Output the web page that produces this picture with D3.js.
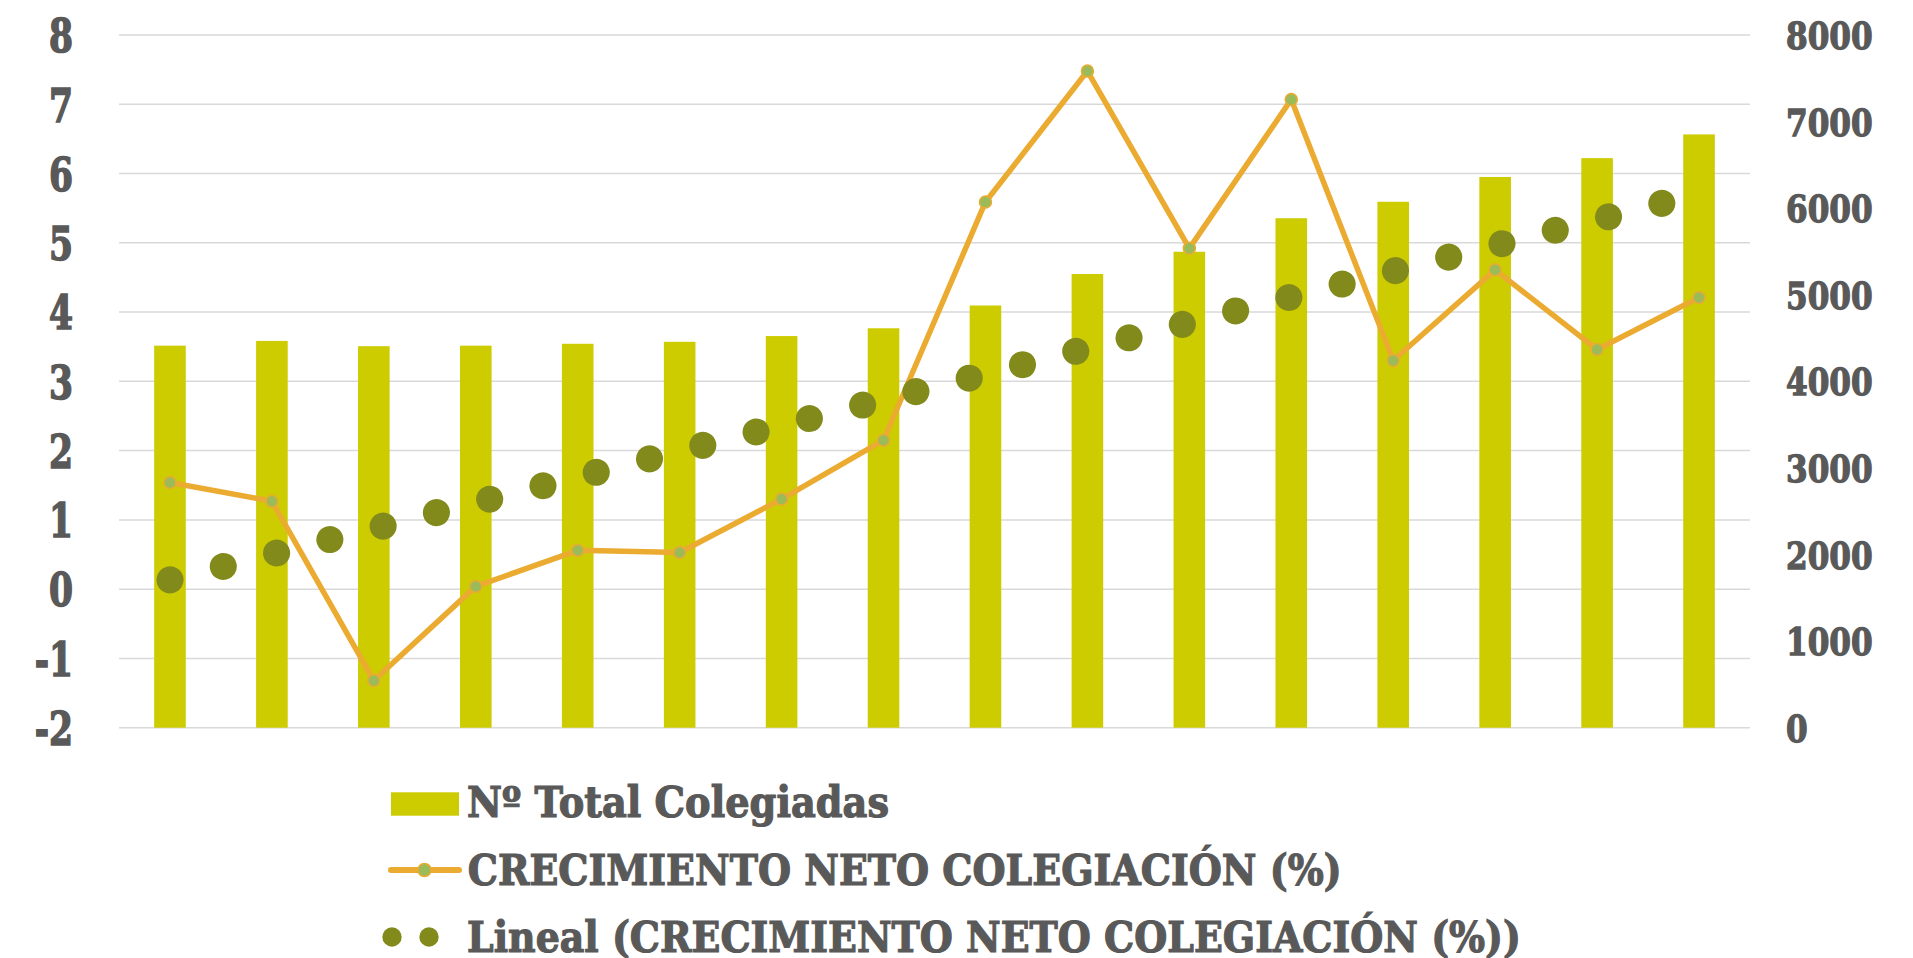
<!DOCTYPE html>
<html>
<head>
<meta charset="utf-8">
<script src="https://cdn.jsdelivr.net/npm/d3@7"></script>
<style>
  html, body { margin: 0; padding: 0; background: #fff; }
  svg { display: block; }
  text { font-family: "DejaVu Serif", serif; font-weight: bold; fill: #595959; stroke: #595959; }
</style>
</head>
<body>
<div id="chart"></div>
<script>
// data
var categories = ["1","2","3","4","5","6","7","8","9","10","11","12","13","14","15","16"];
var colegiadas = [4412, 4467, 4406, 4412, 4434, 4457, 4523, 4613, 4876, 5240, 5497, 5884, 6074, 6360, 6578, 6852];
var crecimiento = [1.54, 1.27, -1.32, 0.04, 0.56, 0.53, 1.30, 2.15, 5.59, 7.48, 4.92, 7.07, 3.30, 4.61, 3.46, 4.21];
var leftTicks = [-2, -1, 0, 1, 2, 3, 4, 5, 6, 7, 8];
var rightTicks = [0, 1000, 2000, 3000, 4000, 5000, 6000, 7000, 8000];
var legendLabels = ["Nº Total Colegiadas", "CRECIMIENTO NETO COLEGIACIÓN (%)", "Lineal (CRECIMIENTO NETO COLEGIACIÓN (%))"];

var width = 1913, height = 958;
var barColor = "#CCCC00", lineColor = "#EBAB31", markerColor = "#9BBB59", trendColor = "#838A1C";

var svg = d3.select("#chart").append("svg").attr("width", width).attr("height", height);

var x = d3.scaleBand().domain(categories).range([119, 1750]).paddingInner(0.69).paddingOuter(0.345);
var yL = d3.scaleLinear().domain([-2, 8]).range([727.7, 35]);
var yR = d3.scaleLinear().domain([0, 8000]).range([727.7, 35]);
var cx = function(d, i) { return x(categories[i]) + x.bandwidth() / 2; };
var plain = function(d) { return d < 0 ? "-" + Math.abs(d) : String(d); };

// gridlines
svg.append("g").selectAll("line").data(leftTicks).enter().append("line")
  .attr("x1", 119).attr("x2", 1750)
  .attr("y1", function(d) { return yL(d); }).attr("y2", function(d) { return yL(d); })
  .attr("stroke", "#D9D9D9").attr("stroke-width", 1.5);

// bars
svg.append("g").selectAll("rect").data(colegiadas).enter().append("rect")
  .attr("x", function(d, i) { return x(categories[i]); })
  .attr("width", x.bandwidth())
  .attr("y", function(d) { return yR(d); })
  .attr("height", function(d) { return yR(0) - yR(d); })
  .attr("fill", barColor);

// line series
var line = d3.line().x(cx).y(function(d) { return yL(d); });
svg.append("path").datum(crecimiento).attr("d", line)
  .attr("fill", "none").attr("stroke", lineColor).attr("stroke-width", 5.5).attr("stroke-linejoin", "round");
svg.append("g").selectAll("circle").data(crecimiento).enter().append("circle")
  .attr("cx", cx).attr("cy", function(d) { return yL(d); }).attr("r", 6)
  .attr("fill", markerColor).attr("stroke", lineColor).attr("stroke-width", 1.5);

// linear trendline (least squares over the line series)
var xs = crecimiento.map(function(d, i) { return i + 1; });
var mx = d3.mean(xs), my = d3.mean(crecimiento);
var slope = d3.sum(xs, function(v, i) { return (v - mx) * (crecimiento[i] - my); }) / d3.sum(xs, function(v) { return (v - mx) * (v - mx); });
var icpt = my - slope * mx;
var trend = [icpt + slope * 1, icpt + slope * categories.length];
svg.append("path").datum(trend)
  .attr("d", d3.line().x(function(d, i) { return i === 0 ? cx(0, 0) : cx(0, categories.length - 1); }).y(function(d) { return yL(d); }))
  .attr("fill", "none").attr("stroke", trendColor).attr("stroke-width", 27)
  .attr("stroke-linecap", "round").attr("stroke-dasharray", "0.1,54.85");

// left axis
var axL = svg.append("g").attr("transform", "translate(73,0)")
  .call(d3.axisLeft(yL).tickValues(leftTicks).tickSize(0).tickPadding(0).tickFormat(plain));
axL.select(".domain").remove();
axL.selectAll("text").attr("x", 0).attr("dy", null).attr("y", null)
  .attr("font-size", 46).attr("font-family", null).attr("fill", null)
  .attr("stroke-width", 1.6)
  .attr("transform", "translate(0,16.8) scale(0.75,1)");

// right axis
var axR = svg.append("g").attr("transform", "translate(1786,0)")
  .call(d3.axisRight(yR).tickValues(rightTicks).tickSize(0).tickPadding(0).tickFormat(plain));
axR.select(".domain").remove();
axR.selectAll("text").attr("x", 0).attr("dy", null).attr("y", null)
  .attr("font-size", 37).attr("font-family", null).attr("fill", null)
  .attr("stroke-width", 1.3)
  .attr("transform", "translate(0,13.5) scale(0.842,1)");

// legend
var lg = svg.append("g");
lg.append("rect").attr("x", 391).attr("y", 792.3).attr("width", 68).attr("height", 23.4).attr("fill", barColor);
lg.append("line").attr("x1", 391).attr("x2", 459).attr("y1", 870).attr("y2", 870)
  .attr("stroke", lineColor).attr("stroke-width", 6).attr("stroke-linecap", "round");
lg.append("circle").attr("cx", 424.5).attr("cy", 870).attr("r", 6.5)
  .attr("fill", markerColor).attr("stroke", lineColor).attr("stroke-width", 1.5);
lg.selectAll("circle.td").data([392, 429]).enter().append("circle").attr("class", "td")
  .attr("cx", function(d) { return d; }).attr("cy", 937).attr("r", 9.7).attr("fill", trendColor);

var legendPos = [[467, 816.7, 422], [467.7, 885, 874], [467, 951.7, 1054]];
lg.selectAll("text").data(legendLabels).enter().append("text")
  .attr("x", function(d, i) { return legendPos[i][0]; })
  .attr("y", function(d, i) { return legendPos[i][1]; })
  .attr("textLength", function(d, i) { return legendPos[i][2]; })
  .attr("lengthAdjust", "spacingAndGlyphs")
  .attr("font-size", 42)
  .attr("stroke-width", 1.2)
  .text(function(d) { return d; });
</script>
</body>
</html>
